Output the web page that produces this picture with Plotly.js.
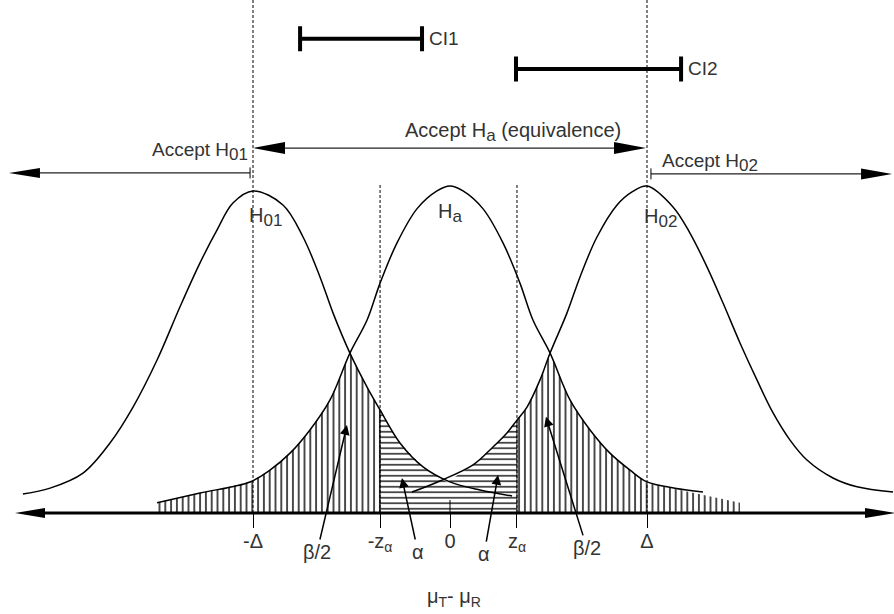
<!DOCTYPE html>
<html><head><meta charset="utf-8">
<script src="https://cdn.plot.ly/plotly-3.0.1.min.js"></script>
<style>html,body{margin:0;padding:0;background:#fff}</style>
</head><body><div id="chart" style="width:894px;height:614px"></div>
<script>
// x in units of the equivalence margin (Delta = 1), y = relative density (peak = 1)
const tickVals = [-1, -0.355, 0, 0.34, 1];
const tickText = ['-Δ', '-z<sub>α</sub>', '0', 'z<sub>α</sub>', 'Δ'];

const h01X = [-2.168,-2.030,-1.863,-1.726,-1.609,-1.487,-1.371,-1.269,-1.183,-1.102,-1.000,-0.848,-0.746,-0.660,-0.594,-0.508,-0.421,-0.355,-0.254,-0.137,0.000,0.152,0.315];
const h01Y = [0.058,0.076,0.122,0.214,0.324,0.468,0.630,0.765,0.865,0.948,0.985,0.942,0.844,0.722,0.612,0.489,0.385,0.315,0.214,0.141,0.095,0.070,0.052];

const haX = [-1.487,-1.269,-1.015,-0.914,-0.812,-0.711,-0.609,-0.508,-0.421,-0.355,-0.269,-0.168,-0.066,0.000,0.066,0.168,0.269,0.355,0.421,0.508,0.609,0.711,0.812,0.914,1.000,1.142,1.284];
const haY = [0.031,0.061,0.095,0.131,0.183,0.254,0.346,0.489,0.590,0.703,0.826,0.930,0.985,1.000,0.985,0.930,0.826,0.703,0.590,0.489,0.346,0.254,0.183,0.131,0.095,0.076,0.064];

const h02X = [-0.193,-0.051,0.117,0.218,0.289,0.340,0.391,0.457,0.508,0.594,0.660,0.746,0.848,0.924,1.000,1.132,1.218,1.305,1.386,1.472,1.558,1.640,1.726,1.812,1.944,2.066,2.249];
const h02Y = [0.064,0.098,0.147,0.202,0.245,0.284,0.324,0.407,0.489,0.612,0.722,0.844,0.942,0.982,1.000,0.936,0.856,0.752,0.642,0.520,0.407,0.306,0.223,0.162,0.107,0.080,0.064];

// hatched regions (beta/2 left, alpha, beta/2 right)
const betaLeftX = [-1.487,-1.269,-1.015,-0.914,-0.812,-0.711,-0.609,-0.508,-0.421,-0.355,-0.355,-1.487];
const betaLeftY = [0.031,0.061,0.095,0.131,0.183,0.254,0.346,0.489,0.385,0.315,0,0];
const alphaX = [-0.355,-0.254,-0.137,-0.015,0.117,0.218,0.289,0.340,0.340,-0.355];
const alphaY = [0.315,0.214,0.141,0.095,0.147,0.202,0.245,0.284,0,0];
const betaRightX = [0.340,0.391,0.457,0.508,0.609,0.711,0.812,0.914,1.000,1.142,1.284,1.472,1.472,0.340];
const betaRightY = [0.284,0.324,0.407,0.489,0.346,0.254,0.183,0.131,0.092,0.073,0.055,0.031,0,0];

// confidence intervals
const ciNames = ['CI1', 'CI2'];
const ciLow = [-0.761, 0.335];
const ciHigh = [-0.142, 1.173];
const ciLevel = [1.450, 1.358];

const FONT = 'Liberation Sans, Arial, sans-serif';
const TXT = '#333333';

const curve = (x, y) => ({type:'scatter', mode:'lines', x, y, hoverinfo:'skip',
  line:{color:'#000', width:1.5, shape:'spline', smoothing:1}});
const hatch = (x, y, shape, size) => ({type:'scatter', mode:'lines', x, y, fill:'toself',
  hoverinfo:'skip', line:{width:0, color:'rgba(0,0,0,0)'}, fillcolor:'rgba(0,0,0,0)',
  fillpattern:{shape, size, solidity:0.24, fgcolor:'#000', bgcolor:'rgba(255,255,255,0)'}});

const traces = [
  hatch(betaLeftX, betaLeftY, '|', 5.8),
  hatch(alphaX, alphaY, '-', 5.5),
  hatch(betaRightX, betaRightY, '|', 5.8),
  curve(h01X, h01Y), curve(haX, haY), curve(h02X, h02Y),
  {type:'scatter', mode:'markers', hoverinfo:'skip',
   x: ciLow.map((l,i)=>(l+ciHigh[i])/2), y: ciLevel,
   marker:{size:1, color:'rgba(0,0,0,0)'},
   error_x:{type:'data', array: ciLow.map((l,i)=>(ciHigh[i]-l)/2), visible:true,
     color:'#000', thickness:4, width:12.5}}
];

const dash = '3px,2px';
const vline = (x, y0, y1, d, w) => ({type:'line', xref:'x', yref:'y', x0:x, x1:x, y0, y1,
  line:{color:'#000', width:w||1, dash:d||'solid'}});
const hline = (x0, x1, y, w, c) => ({type:'line', xref:'x', yref:'y', x0, x1, y0:y, y1:y,
  line:{color:c||'#000', width:w}});
const head = (x, y, dir, len, half, c) => ({type:'path', xref:'x', yref:'y',
  xsizemode:'pixel', ysizemode:'pixel', xanchor:x, yanchor:y,
  path:`M0,0L${dir*len},${half}L${dir*len},${-half}Z`, fillcolor:c||'#000', line:{width:0}});

const dY = 1/327; // one pixel in y units
const shapes = [
  // main axis with arrows
  hline(-2.208 + 0.1, 2.259 - 0.1, 0, 3),
  head(-2.208, 0, 1, 30, 5),
  head(2.259, 0, -1, 30, 5),
  // reference lines
  vline(-1, 0, 1.6, dash), vline(1, 0, 1.6, dash),
  vline(tickVals[1], 0, 1.003, dash), vline(tickVals[3], 0, 1.003, dash),
  vline(tickVals[1], 0, 0.315), vline(tickVals[3], 0, 0.284),
  vline(0, 0, 13*dY),
  // Accept Ha (equivalence) double arrow
  hline(-1 + 0.1, 0.995 - 0.1, 1.116, 1.2, '#222'),
  head(-1, 1.116, 1, 32, 6), head(0.995, 1.116, -1, 32, 6),
  // Accept H01
  hline(-2.239 + 0.1, -1.015, 1.040, 1.2, '#222'),
  head(-2.239, 1.040, 1, 31, 5),
  vline(-1.015, 1.040 - 5.5*dY, 1.040 + 5.5*dY),
  // Accept H02
  hline(1.020, 2.244 - 0.1, 1.037, 1.2, '#222'),
  head(2.244, 1.037, -1, 31, 5.5),
  vline(1.020, 1.037 - 5.5*dY, 1.037 + 5.5*dY)
];

const txt = (text, x, y, opts) => Object.assign({text, x, y, xref:'x', yref:'y', showarrow:false,
  font:{family:FONT, size:19, color:TXT}, xanchor:'center', yanchor:'middle'}, opts||{});
const sub = (s, px) => `<sub><span style="font-size:${px}px">${s}</span></sub>`;
const arrowLbl = (text, x, y, ax, ay) => ({text, x, y, xref:'x', yref:'y', ax, ay,
  showarrow:true, arrowhead:2, arrowsize:1.3, arrowwidth:1.5, arrowcolor:'#000', standoff:0,
  font:{family:FONT, size:20, color:TXT}});

const annotations = [
  txt('Accept H' + sub('a', 17) + ' (equivalence)', 0.32, 1.165, {font:{family:FONT, size:20, color:TXT}}),
  txt('Accept H' + sub('01', 17), -1.015, 1.104, {xanchor:'right'}),
  txt('Accept H' + sub('02', 17), 1.066, 1.073, {xanchor:'left'}),
  txt('H' + sub('01', 17), -0.939, 0.905, {font:{family:FONT, size:20, color:TXT}}),
  txt('H' + sub('a', 17), 0, 0.918, {font:{family:FONT, size:20, color:TXT}}),
  txt('H' + sub('02', 17), 1.066, 0.902, {font:{family:FONT, size:20, color:TXT}}),
  txt(ciNames[0], ciHigh[0], ciLevel[0], {xanchor:'left', xshift:5, font:{family:FONT, size:19, color:TXT}}),
  txt(ciNames[1], ciHigh[1], ciLevel[1], {xanchor:'left', xshift:5, font:{family:FONT, size:19, color:TXT}}),
  arrowLbl('β/2', -0.523, 0.269, -30, 127),
  arrowLbl('α', -0.244, 0.107, 16, 74),
  arrowLbl('α', 0.244, 0.116, -14, 79),
  arrowLbl('β/2', 0.487, 0.294, 41, 131),
  txt('μ' + sub('T', 14) + '- μ' + sub('R', 14), 0.02, -0.257, {font:{family:FONT, size:20, color:TXT}})
];

const layout = {
  width:894, height:614, margin:{l:0, r:0, t:0, b:0},
  paper_bgcolor:'#fff', plot_bgcolor:'#fff', showlegend:false,
  xaxis:{range:[-2.2843, 2.2538], anchor:'free', position:0.1645,
    showgrid:false, zeroline:false, showline:false,
    ticks:'outside', ticklen:14, tickwidth:1, tickcolor:'#000',
    ticklabelstandoff:-4,
    tickmode:'array', tickvals:tickVals, ticktext:tickText,
    tickfont:{family:FONT, size:20, color:TXT}},
  yaxis:{range:[-0.3089, 1.5688], visible:false, showgrid:false, zeroline:false},
  shapes, annotations
};

Plotly.newPlot('chart', traces, layout, {displayModeBar:false, staticPlot:true});
</script></body></html>
